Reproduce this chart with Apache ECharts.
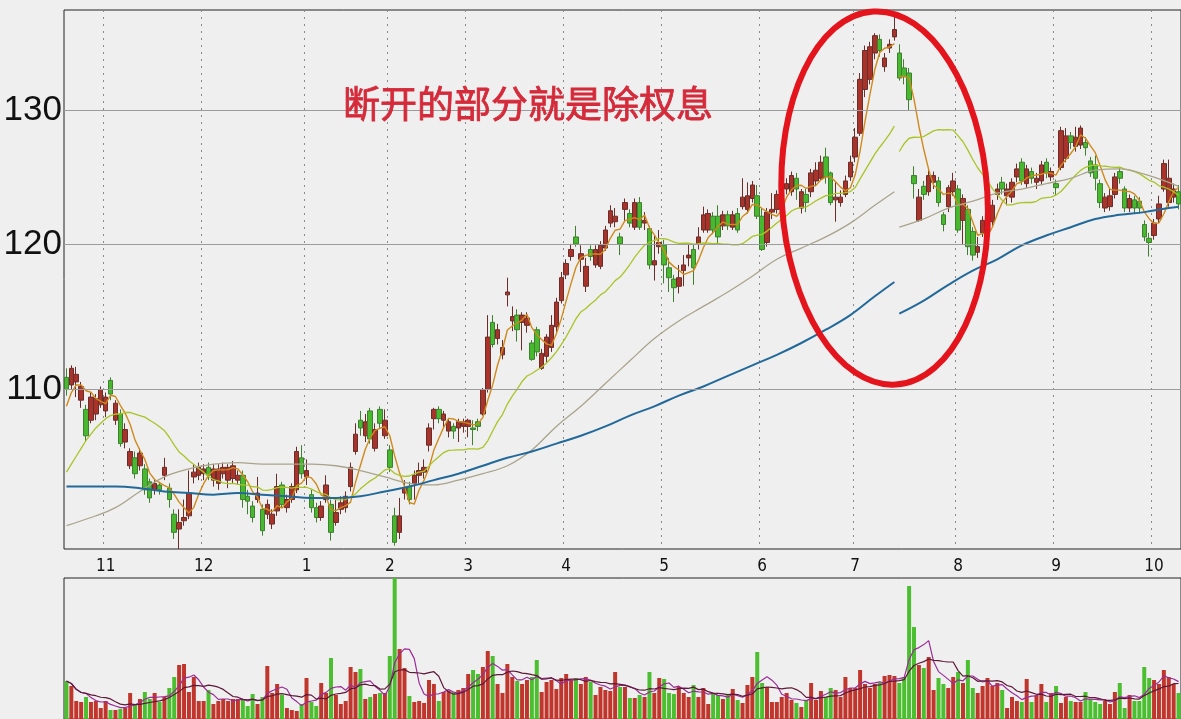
<!DOCTYPE html>
<html><head><meta charset="utf-8">
<script src="https://cdn.jsdelivr.net/npm/echarts@6/dist/echarts.min.js"></script>
<style>html,body{margin:0;padding:0;background:#efefef;}#c{width:1181px;height:719px;}</style>
</head><body><div id="c"></div>
<script>
// ---------- data ----------
const monthLabels = ['11','12','1','2','3','4','5','6','7','8','9','10'];
const monthStartIdx = [8,28,49,66,82,102,122,142,161,182,202,222];
const priceGridValues = [110,120,130];
const annotationText = '断开的部分就是除权息';
const exRightsIndex = 170;   // first trading day after ex-rights
const exRightsGap = 2.5;     // price adjustment applied to the moving averages

const opens = [
110.8,110.3,110.5,109.3,108.7,108.0,108.4,109.0,108.6,110.6,
108.0,108.4,106.6,105.1,105.6,105.1,104.9,104.1,103.6,103.9,
104.5,103.7,102.1,101.2,101.7,102.0,104.4,104.5,104.6,105.0,
104.2,104.0,104.6,104.2,104.3,104.2,104.5,103.2,102.6,103.0,
102.4,102.1,101.5,102.3,103.9,102.5,103.0,103.6,105.6,104.4,
103.3,102.5,101.9,103.0,102.7,101.6,102.4,102.5,103.8,106.0,
108.0,107.0,108.6,106.2,108.7,107.0,106.1,102.0,101.0,103.4,
103.8,104.0,104.5,104.7,106.4,108.1,108.7,108.0,107.3,107.6,
107.5,107.6,107.6,107.5,107.9,108.4,110.0,114.5,113.4,112.3,
116.4,114.6,115.0,114.5,114.3,113.1,114.0,111.4,112.2,112.8,
114.2,116.0,117.8,119.1,120.5,118.9,117.0,119.6,118.5,118.4,
119.7,121.5,121.6,120.5,122.5,122.2,121.2,123.0,121.5,121.1,
118.5,119.8,119.9,118.3,117.5,117.0,118.1,119.0,119.6,120.0,
121.0,121.0,122.0,122.0,121.3,122.1,121.2,122.2,122.7,122.5,
123.3,123.5,122.0,120.1,122.3,122.5,123.3,124.0,123.8,124.8,
122.6,123.6,123.8,124.6,124.8,126.4,125.2,123.2,123.0,123.6,
124.9,126.4,128.2,131.6,132.4,134.5,135.6,133.4,134.9,135.8,
134.5,133.3,132.9,125.0,121.7,124.2,123.8,124.5,124.6,122.1,
122.7,123.8,124.0,121.7,122.5,120.9,119.4,120.8,121.7,121.6,
123.6,124.5,123.5,123.4,124.9,126.0,124.4,125.3,124.5,124.6,
126.0,124.9,124.4,125.6,126.3,128.0,127.2,127.3,127.5,126.1,
125.8,124.4,122.6,122.7,123.6,125.3,124.0,122.6,123.2,123.1,
121.4,120.4,120.6,121.8,124.0,123.0,123.4,123.8];
const closes = [
110.0,111.4,111.0,110.2,107.0,109.5,109.4,110.0,109.5,109.7,
109.1,106.5,107.4,106.0,104.6,105.9,103.6,103.1,104.0,103.6,
105.0,103.0,101.0,101.6,101.9,103.4,104.7,105.0,104.9,104.5,
104.9,104.9,105.0,105.0,105.1,104.5,103.0,102.9,101.9,103.4,
101.1,102.7,102.1,103.8,102.7,103.0,103.8,106.0,104.6,104.8,
102.5,101.9,102.6,103.9,101.0,102.2,102.8,103.2,105.0,107.1,
107.5,107.9,106.8,107.4,107.8,108.0,105.0,100.4,102.0,103.7,
103.0,104.5,104.8,105.0,107.5,108.7,108.1,108.4,107.9,107.3,
107.9,107.9,108.0,107.4,107.6,110.0,113.5,113.0,114.0,112.8,
116.6,114.9,114.0,115.0,114.8,112.0,112.5,112.4,113.5,114.3,
115.9,117.6,118.6,119.6,120.0,119.3,118.4,119.1,119.6,119.9,
121.0,122.4,122.0,120.0,123.0,121.5,123.0,121.2,121.7,118.5,
118.8,120.1,118.5,117.6,116.9,117.6,118.5,119.2,118.3,120.5,
122.1,122.2,121.0,120.5,122.1,121.3,122.1,121.0,123.4,123.5,
124.3,122.0,119.6,122.3,122.5,123.6,124.2,124.4,125.0,124.0,
123.8,123.0,125.2,125.4,126.0,124.9,123.0,123.4,123.4,124.6,
126.0,127.9,132.4,134.7,135.0,135.9,134.7,134.1,135.2,136.4,
132.5,132.6,130.8,124.4,123.4,123.6,125.0,125.0,123.0,121.4,
124.1,124.6,121.0,123.3,119.8,119.2,119.8,121.7,122.5,122.8,
124.0,124.0,124.0,124.5,125.5,124.6,125.5,124.8,124.8,125.8,
125.2,125.3,124.1,128.4,128.0,127.5,127.9,128.6,127.1,125.2,
124.8,123.0,123.4,123.5,124.9,124.8,122.6,123.3,122.6,122.6,
120.5,120.1,121.5,122.9,125.9,124.8,124.0,122.9];
const lows = [
109.6,110.0,109.5,108.8,106.6,107.8,108.0,108.8,108.2,109.3,
107.7,106.3,106.2,104.9,104.3,104.8,103.3,102.8,103.3,103.3,
104.2,102.5,100.6,100.0,101.4,101.8,104.0,104.2,104.2,104.2,
103.8,103.6,104.3,103.7,104.0,103.9,102.5,102.1,101.6,102.8,
100.8,101.8,101.2,102.0,102.5,102.2,102.8,103.4,104.3,103.9,
102.2,101.6,101.7,102.8,100.5,101.4,102.1,102.2,103.5,105.8,
107.0,106.6,106.5,106.0,107.5,106.8,104.7,100.2,100.6,103.0,
102.7,103.0,104.0,104.3,106.0,107.4,107.8,107.5,106.9,106.8,
106.6,107.2,106.9,106.4,107.3,108.3,109.8,112.8,113.0,112.0,
115.6,113.9,113.2,112.6,113.8,111.9,112.2,111.3,111.8,112.5,
113.8,115.8,117.5,118.8,119.8,118.0,116.6,118.8,118.3,118.2,
119.5,121.2,121.2,119.2,121.6,121.2,121.0,121.0,121.0,118.2,
117.4,119.3,117.2,116.6,115.9,116.5,117.0,118.4,117.1,119.6,
120.8,120.8,120.7,120.0,121.0,121.0,121.0,120.8,122.5,122.2,
123.0,121.8,119.5,119.8,121.8,122.2,123.0,123.6,123.5,123.2,
122.2,122.3,123.4,124.2,124.6,124.4,122.8,121.6,122.7,123.4,
124.6,126.0,128.0,131.0,132.0,134.0,134.2,133.0,134.5,135.5,
132.3,132.0,130.0,123.3,121.6,123.2,123.5,124.0,122.7,120.9,
122.3,123.5,120.8,120.0,119.2,118.8,119.0,120.5,121.4,121.3,
123.2,123.6,122.8,123.0,124.5,124.3,124.1,124.4,124.0,124.3,
124.8,124.6,123.5,125.4,126.0,127.0,126.8,127.0,126.5,124.9,
123.9,122.6,122.3,122.4,123.3,124.4,122.3,122.3,122.2,122.2,
120.2,119.1,120.3,121.5,123.8,122.7,123.0,122.5];
const highs = [
111.4,111.6,111.5,110.5,109.0,109.8,109.7,110.2,109.8,110.8,
109.3,108.7,107.8,106.2,106.0,106.2,105.2,104.3,104.2,104.1,
105.6,104.0,102.4,102.4,103.0,104.8,105.2,105.3,105.2,105.3,
105.2,105.2,105.3,105.2,105.4,104.8,104.8,103.6,102.9,104.4,
102.7,103.0,102.4,104.6,104.1,103.3,104.0,106.3,106.4,105.5,
103.6,102.8,102.9,104.5,103.0,103.0,103.2,103.5,105.3,107.8,
108.6,108.4,108.8,107.8,108.9,108.7,106.4,102.5,103.1,104.2,
104.1,104.8,105.3,105.5,107.8,108.8,108.9,108.6,108.1,107.8,
108.1,108.1,108.1,108.0,108.1,110.1,115.0,115.0,114.4,113.3,
117.6,115.6,115.4,115.2,115.2,113.3,114.2,112.7,113.7,115.0,
116.2,118.0,118.9,120.0,121.3,119.9,119.0,119.9,119.9,120.2,
121.3,122.8,122.6,120.8,123.3,122.5,123.3,123.4,122.3,121.3,
120.6,121.0,120.3,119.0,117.8,118.5,119.2,120.0,120.0,121.2,
122.7,122.5,122.3,122.8,122.4,122.4,122.4,122.6,124.8,124.5,
124.6,124.3,122.6,122.6,123.7,123.9,124.5,124.8,125.3,125.2,
124.0,124.0,125.5,126.0,126.5,127.1,125.3,124.5,123.9,125.0,
126.5,128.6,132.9,135.1,135.4,136.1,136.0,134.5,135.6,137.6,
135.2,134.0,133.3,125.7,124.0,124.6,125.4,125.3,124.9,122.3,
124.3,125.2,124.3,123.6,122.8,121.2,120.5,122.0,122.8,123.2,
124.4,124.9,124.4,124.8,125.9,126.3,125.8,125.6,125.2,126.1,
126.3,125.6,124.7,128.7,128.6,128.3,128.7,128.8,127.9,126.4,
126.5,124.7,123.7,124.0,125.2,125.6,124.2,123.6,123.5,123.4,
121.7,120.8,121.8,123.5,126.2,126.2,124.4,124.3];
const volumes = [
38,33,18,17,22,17,18,11,18,9, 9,10,11,26,15,20,27,20,26,17,
22,31,42,54,55,27,42,18,18,29, 15,18,20,18,20,20,20,13,25,15,
22,53,26,35,24,11,9,8,15,41, 17,13,36,26,61,24,15,18,52,47,
50,20,22,25,26,26,63,141,70,51, 23,17,18,16,39,35,18,27,28,27,
29,31,45,49,45,52,68,63,35,26, 55,42,38,35,39,42,59,27,37,39,
30,41,45,39,41,35,42,37,24,32, 29,28,47,32,32,21,21,24,22,47,
26,41,40,26,25,32,26,22,34,22, 31,15,26,24,20,24,30,19,16,34,
42,67,36,32,17,17,22,26,19,16, 12,19,36,19,28,22,31,29,22,42,
31,31,49,35,31,35,36,43,44,43, 36,42,133,92,54,51,62,29,41,35,
31,42,47,36,59,31,26,33,41,33, 36,29,11,22,18,17,40,17,24,35,
17,26,33,16,22,18,17,17,27,20, 17,15,18,15,27,36,11,24,18,18,
52,41,39,35,49,42,35,26];
// MA values before the first full window
const ma5Head = [108.9,109.8,110.3,110.3];
const ma20Head = [104.7,105.2,105.7,106.2,106.7,107.1,107.5,107.8,108.1,108.3,108.4,108.4,108.5,108.5,108.4,108.3,108.2,108.0,107.8];
// long MAs at sample days
const preSampleIdx = [0,5,10,15,20,25,30,35,40,45,50,55,60,65,70,75,80,85,90,95,100,105,110,115,120,125,130,135,140,145,150,155,160,165,169];
const postSampleIdx = [170,175,180,185,190,195,200,205,210,215,220,225,227];
const ma60Pre = [101.4,101.9,102.5,103.5,104.4,104.9,105.2,105.3,105.2,105.2,105.2,105.1,104.8,104.4,104.0,103.9,104.2,104.6,105.1,106.1,107.6,108.9,110.4,111.9,113.4,114.6,115.6,116.6,117.7,118.9,119.7,120.5,121.5,122.8,123.8];
const ma60Post = [121.2,121.8,122.6,123.1,123.7,124.0,124.4,124.8,125.4,125.5,125.1,124.5,124.2];
const ma120Pre = [103.8,103.8,103.8,103.7,103.5,103.4,103.3,103.4,103.3,103.2,103.1,103.1,103.2,103.5,103.8,104.2,104.6,105.1,105.6,106.0,106.5,107.0,107.6,108.3,108.9,109.6,110.2,110.9,111.6,112.3,113.1,114.0,115.0,116.3,117.3];
const ma120Post = [115.1,116.0,117.1,118.1,118.9,119.9,120.6,121.2,121.8,122.1,122.3,122.6,122.7];
// annotation ring (in data units: day index and price)
const ringBox = {fromIndex: 146.0, toIndex: 188.0, high: 137.9, low: 110.3};

// ---------- build ----------
const N = closes.length;
const cats = closes.map((_, i) => 'd' + i);
const labelAt = {};
monthStartIdx.forEach((k, j) => { labelAt[k] = monthLabels[j]; });
const candleData = opens.map((o, i) => [o, closes[i], lows[i], highs[i]]);

function movingAvg(n, head) {
  const out = [];
  for (let i = 0; i < N; i++) {
    if (i < n - 1) { out.push(head[i]); continue; }
    let s = 0;
    for (let j = i - n + 1; j <= i; j++) {
      let v = closes[j];
      if (i >= exRightsIndex && j < exRightsIndex) v -= exRightsGap;
      s += v;
    }
    out.push(+(s / n).toFixed(3));
  }
  return out;
}
const pre = a => a.map((v, i) => i < exRightsIndex ? v : null);
const post = a => a.map((v, i) => i >= exRightsIndex ? v : null);
function sampled(idx, vals) {
  const a = new Array(N).fill(null);
  idx.forEach((k, j) => { a[k] = vals[j]; });
  return a;
}
function volAvg(n) {
  return volumes.map((_, i) => {
    const s = Math.max(0, i - n + 1);
    let sum = 0;
    for (let j = s; j <= i; j++) sum += volumes[j];
    return +(sum / (i - s + 1)).toFixed(2);
  });
}
const ma5 = movingAvg(5, ma5Head);
const ma20 = movingAvg(20, ma20Head);

const lineBase = (name, data, color, width, smooth, connect) => ({
  name, type: 'line', xAxisIndex: 0, yAxisIndex: 0, data,
  showSymbol: false, symbol: 'none', smooth: smooth, connectNulls: !!connect,
  lineStyle: {color, width}, z: 3, silent: true
});

const C_MA5 = '#d08a1c', C_MA20 = '#aac426', C_MA60 = '#aaa48c', C_MA120 = '#22699a';

const chart = echarts.init(document.getElementById('c'), null, {renderer: 'canvas'});
const option = {
  backgroundColor: '#efefef',
  animation: false,
  title: {
    text: annotationText, left: 338, top: 80,
    textStyle: {fontSize: 37, fontWeight: 'normal', color: '#d42a3a', fontFamily: 'Noto Sans CJK SC',
      textBorderColor: '#d42a3a', textBorderWidth: 0.8}
  },
  grid: [
    {left: 64, top: 10, right: -3, height: 539, show: true, borderColor: '#222', borderWidth: 1, backgroundColor: 'transparent'},
    {left: 64, top: 578, right: -3, height: 141, show: true, borderColor: '#222', borderWidth: 1, backgroundColor: 'transparent'}
  ],
  xAxis: [
    {type: 'category', gridIndex: 0, data: cats, boundaryGap: true,
     axisLine: {show: false}, axisTick: {show: false},
     axisLabel: {interval: (i) => labelAt[i] !== undefined, formatter: (v, i) => labelAt[i] || '',
       color: '#111', fontSize: 17, margin: 9, fontFamily: "'Liberation Sans Narrow','DejaVu Sans Condensed',sans-serif"},
     splitLine: {show: true, interval: (i) => labelAt[i] !== undefined, lineStyle: {color: '#8a8a8a', type: [2, 5], width: 1}}},
    {type: 'category', gridIndex: 1, data: cats, boundaryGap: true,
     axisLine: {show: false}, axisTick: {show: false}, axisLabel: {show: false}, splitLine: {show: false}}
  ],
  yAxis: [
    {type: 'log', gridIndex: 0, min: 100, max: 138, show: false},
    {type: 'value', gridIndex: 1, min: 0, max: 141, show: false}
  ],
  series: [
    {type: 'line', xAxisIndex: 0, yAxisIndex: 0, data: [], z: 1, silent: true,
     markLine: {silent: true, symbol: ['none', 'none'], animation: false,
       data: priceGridValues.map(v => ({yAxis: v})),
       lineStyle: {color: '#9c9c9c', width: 1.2, type: 'solid'},
       label: {show: true, position: 'start', formatter: '{c}', fontSize: 35, color: '#111', distance: 2,
         fontFamily: "'Liberation Sans', Arial, sans-serif"},
       emphasis: {disabled: true}}},
    {type: 'candlestick', xAxisIndex: 0, yAxisIndex: 0, data: candleData, barWidth: 5, z: 2, silent: true,
     itemStyle: {color: '#a8332a', color0: '#48b82e', borderColor: '#6a2e2a', borderColor0: '#3f7f30', borderWidth: 1}},
    lineBase('MA5', pre(ma5), C_MA5, 1.4, false),
    lineBase('MA5b', post(ma5), C_MA5, 1.4, false),
    lineBase('MA20', pre(ma20), C_MA20, 1.3, false),
    lineBase('MA20b', post(ma20), C_MA20, 1.3, false),
    lineBase('MA60', sampled(preSampleIdx, ma60Pre), C_MA60, 1.3, 0.4, true),
    lineBase('MA60b', sampled(postSampleIdx, ma60Post), C_MA60, 1.3, 0.4, true),
    lineBase('MA120', sampled(preSampleIdx, ma120Pre), C_MA120, 2, 0.4, true),
    lineBase('MA120b', sampled(postSampleIdx, ma120Post), C_MA120, 2, 0.4, true),
    {type: 'bar', xAxisIndex: 1, yAxisIndex: 1, barWidth: 4, silent: true,
     data: volumes.map((v, i) => ({value: v, itemStyle: {color: closes[i] >= opens[i] ? '#c1362c' : '#4cbf30'}}))},
    {type: 'line', xAxisIndex: 1, yAxisIndex: 1, data: volAvg(5), showSymbol: false, symbol: 'none', silent: true,
     lineStyle: {color: '#9a2c98', width: 1.2}, z: 3},
    {type: 'line', xAxisIndex: 1, yAxisIndex: 1, data: volAvg(10), showSymbol: false, symbol: 'none', silent: true,
     lineStyle: {color: '#5e1838', width: 1.2}, z: 3}
  ]
};
chart.setOption(option);

const p1 = chart.convertToPixel({gridIndex: 0}, [ringBox.fromIndex, ringBox.high]);
const p2 = chart.convertToPixel({gridIndex: 0}, [ringBox.toIndex, ringBox.low]);
const cx = (p1[0] + p2[0]) / 2, cy = (p1[1] + p2[1]) / 2;
chart.setOption({graphic: [{
  type: 'ellipse', x: cx, y: cy, rotation: 0.06, silent: true, z: 100,
  shape: {cx: 0, cy: 0, rx: Math.abs(p2[0] - p1[0]) / 2, ry: Math.abs(p2[1] - p1[1]) / 2},
  style: {fill: 'transparent', stroke: '#e3141c', lineWidth: 6}
}]});
</script></body></html>
